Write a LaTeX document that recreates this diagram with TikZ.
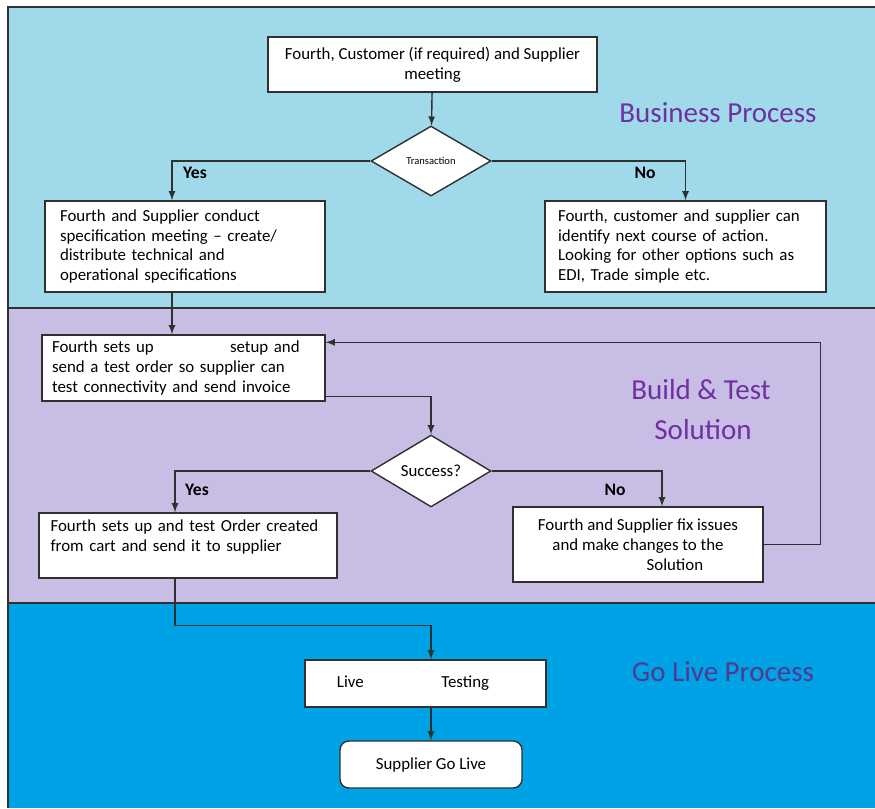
\documentclass[tikz,border=0pt]{standalone}
\usepackage{fontspec}
\setmainfont{Carlito}
\usetikzlibrary{shapes.geometric,calc}

\definecolor{bandA}{HTML}{9FD9EA}
\definecolor{bandB}{HTML}{C8BDE5}
\definecolor{bandC}{HTML}{00A2E6}
\definecolor{titleA}{HTML}{7030A0}
\definecolor{titleC}{HTML}{51398F}
\definecolor{edge}{HTML}{303030}

\tikzset{
  box/.style={draw=edge, fill=white, line width=0.8pt, inner sep=0pt, font=\fontsize{9.6}{11.3}\selectfont},
  decision/.style={draw=edge, fill=white, line width=0.8pt, diamond, inner sep=0pt, minimum width=2.4cm, minimum height=1.4cm},
  lbl/.style={font=\fontsize{10}{12}\selectfont\bfseries},
  title/.style={font=\fontsize{16.5}{19}\selectfont, text=titleA},
  link/.style={draw=edge, line width=0.8pt, ->, >=latex}
}

\begin{document}
\begin{tikzpicture}[x=0.02cm, y=-0.02cm]
    \useasboundingbox (0,0) rectangle (875,808);
    % bands
    \fill[bandA] (8,7) rectangle (875,308);
    \fill[bandB] (8,308) rectangle (875,603);
    \fill[bandC] (8,603) rectangle (875,808);
    \draw[edge, line width=1pt] (8,808) -- (8,7) -- (875,7);
    \draw[edge, line width=1.6pt] (8,308) -- (875,308);
    \draw[edge, line width=1.6pt] (8,603) -- (875,603);

    \node[title] (bp) at (718,113) {Business Process};
    \node[title] (bt) at (701,390) {Build \& Test};
    \node[title] (bs) at (703,430) {Solution};
    \node[title, text=titleC] (gl) at (723,672) {Go Live Process};

    % business process
    \node[box, minimum width=6.58cm, minimum height=1.1cm, align=center] (meet) at (432.5,64.5)
        {Fourth, Customer (if required) and Supplier\\meeting};
    \node[decision, font=\fontsize{6}{7}\selectfont] (trans) at (431,161) {Transaction};
    \node[box, minimum width=5.6cm, minimum height=1.82cm, text width=5cm, align=left] (spec) at (185,246.5)
        {Fourth and Supplier conduct\\specification meeting -- create/\\distribute technical and\\operational specifications};
    \node[box, minimum width=5.62cm, minimum height=1.82cm, text width=5.1cm, align=left] (other) at (685.5,246.5)
        {Fourth, customer and supplier can\\identify next course of action.\\Looking for other options such as\\EDI, Trade simple etc.};
    \node[lbl] (yes1) at (195,173) {Yes};
    \node[lbl] (no1) at (645,173) {No};

    \draw[link] (meet) -- (trans);
    \draw[link] (trans.west) -| ([xshift=-0.26cm]spec.north);
    \draw[link] (trans.east) -| (other.north);

    % build and test
    \node[box, minimum width=5.66cm, minimum height=1.32cm, text width=5.26cm, align=left] (setup) at (183.5,368)
        {Fourth sets up \hspace{1.3cm} setup and\\send a test order so supplier can\\test connectivity and send invoice};
    \node[decision, font=\fontsize{9.6}{11}\selectfont] (succ) at (431,471) {Success?};
    \node[box, minimum width=5.96cm, minimum height=1.3cm, text width=5.5cm, align=left] (order) at (188,545.5)
        {Fourth sets up and test Order created\\from cart and send it to supplier\\\mbox{}};
    \node[box, minimum width=5cm, minimum height=1.5cm, align=center] (fix) at (638,544.5)
        {Fourth and Supplier fix issues\\and make changes to the\\\hspace*{1.4cm} Solution};
    \node[lbl] (yes2) at (197,490) {Yes};
    \node[lbl] (no2) at (615,490) {No};

    \draw[link] ([xshift=-0.26cm]spec.south) -- ([xshift=-0.26cm]spec.south |- setup.north);
    \draw[link] ([yshift=0.1cm]setup.south east) -| (succ.north);
    \draw[link] (succ.west) -| ([xshift=-0.26cm]order.north);
    \draw[link] (succ.east) -| ([xshift=0.48cm]fix.north);
    \draw[link] (fix.east) -- ++(57,0) |- ([yshift=-0.16cm]setup.north east);

    % go live
    \node[box, minimum width=4.82cm, minimum height=0.94cm, align=center] (live) at (425.5,683.5)
        {Live \hspace{1.4cm} Testing\hspace*{0.5cm}};
    \node[box, rounded corners=5pt, minimum width=3.64cm, minimum height=0.94cm] (golive) at (431,764.5)
        {Supplier Go Live};

    \draw[link] ([xshift=-0.26cm]order.south) -- ++(0,47) -| (golive.north |- live.north);
    \draw[link] (golive.north |- live.south) -- (golive.north);
\end{tikzpicture}
\end{document}
